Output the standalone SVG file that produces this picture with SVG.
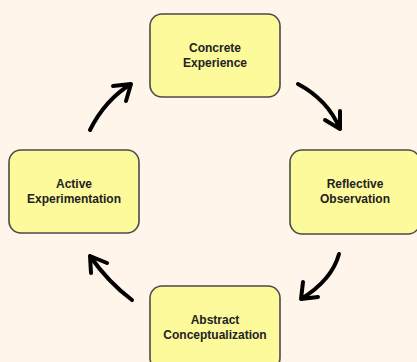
<svg xmlns="http://www.w3.org/2000/svg" width="417" height="362" viewBox="0 0 417 362">
<style>
.box{fill:#fdfa9c;stroke:#4a4a4a;stroke-width:1.6}
.lbl{font-family:"Liberation Sans",Arial,sans-serif;font-weight:bold;font-size:12px;fill:#222;text-anchor:middle}
.arr{fill:none;stroke:#000;stroke-width:4;stroke-linecap:round;stroke-linejoin:round}
</style>
<rect width="417" height="362" fill="#fff5eb"/>
<g id="concrete-experience">
<rect class="box" x="150" y="14" width="130" height="83" rx="12"/>
<text class="lbl" x="215" y="52">Concrete</text>
<text class="lbl" x="215" y="67">Experience</text>
</g>
<g id="reflective-observation">
<rect class="box" x="290" y="150" width="130" height="84" rx="12"/>
<text class="lbl" x="355" y="188">Reflective</text>
<text class="lbl" x="355" y="203">Observation</text>
</g>
<g id="abstract-conceptualization">
<rect class="box" x="150" y="286" width="130" height="84" rx="12"/>
<text class="lbl" x="215" y="324">Abstract</text>
<text class="lbl" x="215" y="339">Conceptualization</text>
</g>
<g id="active-experimentation">
<rect class="box" x="9" y="150" width="130" height="83" rx="12"/>
<text class="lbl" x="74" y="188">Active</text>
<text class="lbl" x="74" y="203">Experimentation</text>
</g>
<g id="connectors">
<path class="arr" d="M298,84 Q328,100 340,129 M325,120 L340,129 L340,111"/>
<path class="arr" d="M339,254 Q332,280 301,299 M303,282 L301,299 L318,297"/>
<path class="arr" d="M132,300 Q108,282 90,256 M91,273 L90,256 L107,263"/>
<path class="arr" d="M90,130 Q105,100 131,84 M113,86 L131,84 L126,101"/>
</g>
</svg>
